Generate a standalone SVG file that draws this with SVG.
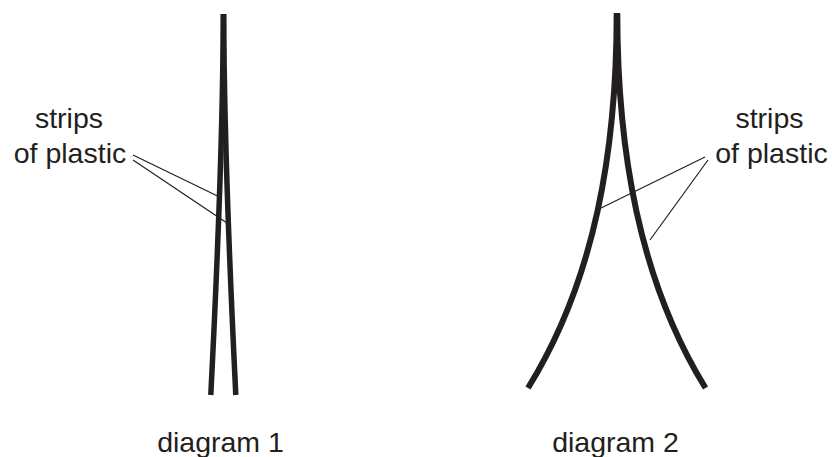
<svg xmlns="http://www.w3.org/2000/svg" width="832" height="457" viewBox="0 0 832 457">
<style>
.strip{fill:none;stroke:#231f20;stroke-width:5.5;stroke-linecap:butt}
.thick{stroke-width:6}
.lead{fill:none;stroke:#231f20;stroke-width:1.2}
.lbl{font-family:"Liberation Sans",Arial,sans-serif;font-size:28.5px;fill:#231f20;text-anchor:middle}
</style>
<rect width="832" height="457" fill="#fff"/>
<g id="diagram1">
<path class="strip" d="M223.2,14 Q223.2,150 210.8,395"/>
<path class="strip" d="M223.8,14 Q223.8,150 235.8,395"/>
<text class="lbl" x="220.5" y="452">diagram 1</text>
</g>
<g id="diagram2">
<path class="strip thick" d="M616.7,13 C616.7,150 595,280 528,388"/>
<path class="strip thick" d="M617.3,13 C617.3,150 639,280 705.5,388"/>
<text class="lbl" x="615.5" y="452">diagram 2</text>
</g>
<g id="label1">
<text class="lbl" x="69" y="128">strips</text>
<text class="lbl" x="70" y="163">of plastic</text>
</g>
<g id="label2">
<text class="lbl" x="769.5" y="128">strips</text>
<text class="lbl" x="771.5" y="163">of plastic</text>
</g>
<g id="connectors">
<line class="lead" x1="133" y1="155" x2="217.5" y2="196"/>
<line class="lead" x1="133" y1="160" x2="227" y2="223"/>
<line class="lead" x1="705" y1="157" x2="597" y2="210"/>
<line class="lead" x1="708" y1="160" x2="650" y2="240"/>
</g>
</svg>
